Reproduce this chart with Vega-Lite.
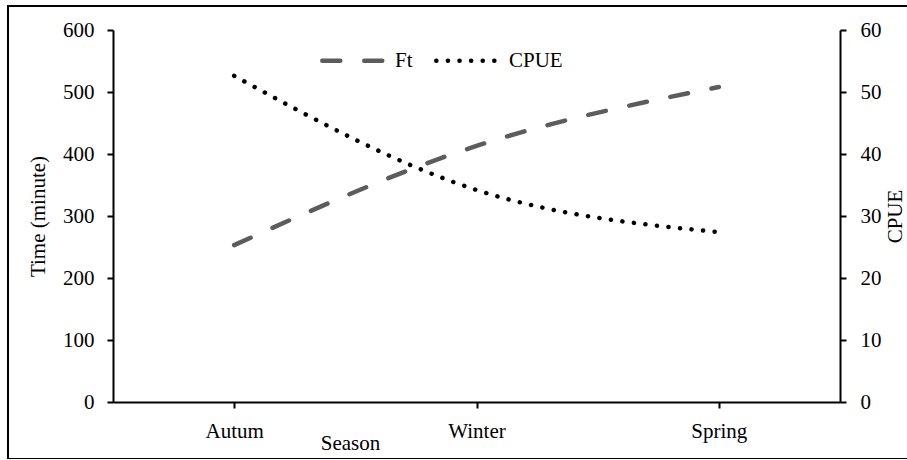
{
  "$schema": "https://vega.github.io/schema/vega-lite/v6.json",
  "width": 900,
  "height": 453,
  "autosize": {"type": "none"},
  "padding": {"left": 8, "top": 6, "right": 0, "bottom": 0},
  "background": "white",
  "config": {
    "view": {"stroke": "black", "strokeWidth": 2},
    "font": "Liberation Serif",
    "axis": {
      "grid": false,
      "domainColor": "black",
      "domainWidth": 2,
      "tickColor": "black",
      "tickWidth": 2,
      "tickSize": 6,
      "labelFont": "Liberation Serif",
      "labelFontSize": 21,
      "labelColor": "black",
      "titleFont": "Liberation Serif",
      "titleFontSize": 21,
      "titleFontWeight": "normal",
      "titleColor": "black"
    },
    "legend": {
      "labelFont": "Liberation Serif",
      "labelFontSize": 21,
      "labelColor": "black"
    }
  },
  "data": {
    "values": [
      {"season": "Autum", "series": "Ft", "value": 253},
      {"season": "Winter", "series": "Ft", "value": 413},
      {"season": "Spring", "series": "Ft", "value": 508},
      {"season": "Autum", "series": "CPUE", "value": 52.6},
      {"season": "Winter", "series": "CPUE", "value": 34.2},
      {"season": "Spring", "series": "CPUE", "value": 27.4}
    ]
  },
  "encoding": {
    "x": {
      "field": "season",
      "type": "ordinal",
      "sort": ["Autum", "Winter", "Spring"],
      "scale": {"type": "point", "padding": 0.5, "range": [105, 832]},
      "axis": {
        "title": "Season",
        "offset": -57,
        "labelAngle": 0,
        "labelPadding": 12,
        "titleX": 342,
        "titleY": 47,
        "titleBaseline": "alphabetic"
      }
    },
    "color": {
      "field": "series",
      "type": "nominal",
      "scale": {"domain": ["Ft", "CPUE"], "range": ["#5c5c5c", "#000000"]},
      "legend": {
        "orient": "none",
        "legendX": 312,
        "legendY": 21,
        "direction": "horizontal",
        "title": null,
        "symbolType": "stroke",
        "symbolSize": 3900,
        "symbolStrokeWidth": 4.5,
        "columnPadding": 14,
        "labelOffset": 8,
        "encode": {"symbols": {"update": {"strokeCap": {"value": "round"}}}}
      }
    },
    "strokeDash": {
      "field": "series",
      "type": "nominal",
      "scale": {"domain": ["Ft", "CPUE"], "range": [[18, 24], [0.1, 11.5]]},
      "legend": {
        "orient": "none",
        "legendX": 312,
        "legendY": 21,
        "direction": "horizontal",
        "title": null,
        "symbolType": "stroke",
        "symbolSize": 3900,
        "symbolStrokeWidth": 4.5,
        "columnPadding": 14,
        "labelOffset": 8,
        "encode": {"symbols": {"update": {"strokeCap": {"value": "round"}}}}
      }
    }
  },
  "layer": [
    {
      "transform": [{"filter": "datum.series === 'Ft'"}],
      "mark": {"type": "line", "interpolate": "monotone", "strokeWidth": 4.5, "strokeCap": "round"},
      "encoding": {
        "y": {
          "field": "value",
          "type": "quantitative",
          "scale": {"domain": [0, 600], "range": [396, 24], "nice": false},
          "axis": {
            "title": "Time (minute)",
            "orient": "left",
            "offset": -105,
            "values": [0, 100, 200, 300, 400, 500, 600],
            "labelPadding": 13,
            "titlePadding": 14
          }
        }
      }
    },
    {
      "transform": [{"filter": "datum.series === 'CPUE'"}],
      "mark": {"type": "line", "interpolate": "monotone", "strokeWidth": 4.5, "strokeCap": "round"},
      "encoding": {
        "y": {
          "field": "value",
          "type": "quantitative",
          "scale": {"domain": [0, 60], "range": [396, 24], "nice": false},
          "axis": {
            "title": "CPUE",
            "orient": "right",
            "offset": -68,
            "values": [0, 10, 20, 30, 40, 50, 60],
            "labelPadding": 14,
            "titleAngle": -90,
            "titleBaseline": "middle",
            "titleX": 55,
            "titleY": 210
          }
        }
      }
    }
  ],
  "resolve": {"scale": {"y": "independent"}}
}
